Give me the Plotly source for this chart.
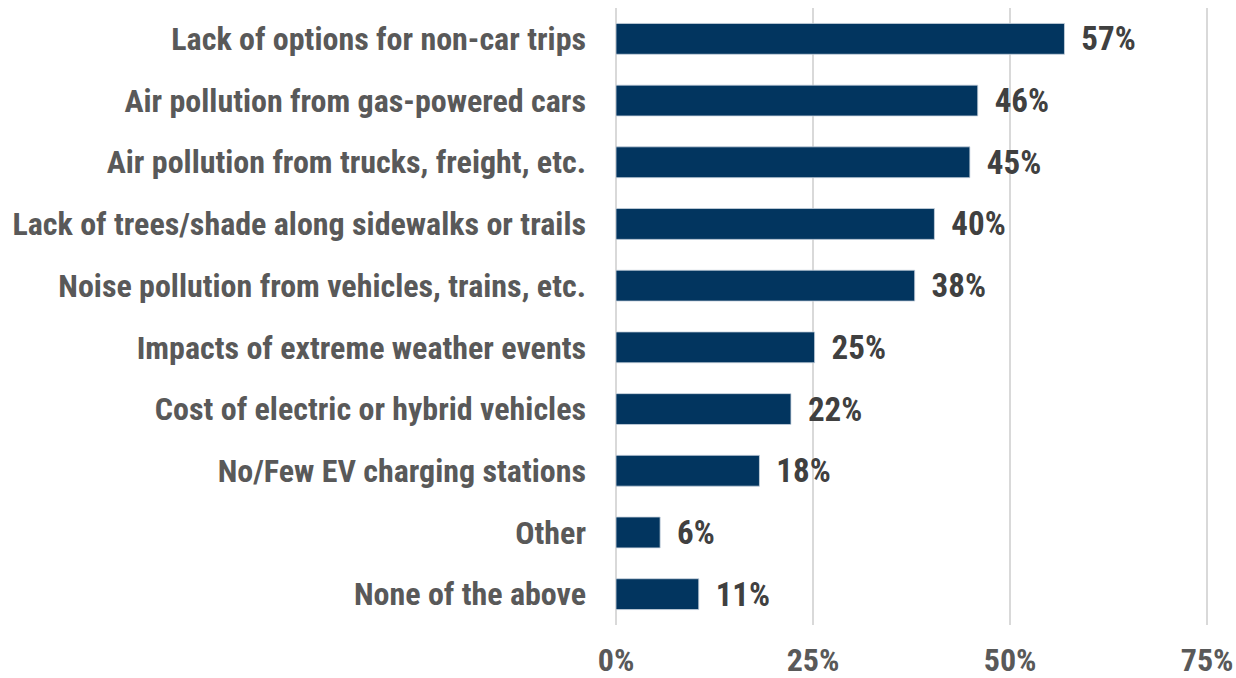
import plotly.graph_objects as go

categories = [
    "Lack of options for non-car trips",
    "Air pollution from gas-powered cars",
    "Air pollution from trucks, freight, etc.",
    "Lack of trees/shade along sidewalks or trails",
    "Noise pollution from vehicles, trains, etc.",
    "Impacts of extreme weather events",
    "Cost of electric or hybrid vehicles",
    "No/Few EV charging stations",
    "Other",
    "None of the above",
]
values = [0.569, 0.459, 0.449, 0.404, 0.379, 0.252, 0.222, 0.182, 0.056, 0.105]
value_labels = ["57%", "46%", "45%", "40%", "38%", "25%", "22%", "18%", "6%", "11%"]
x_ticks = [0, 0.25, 0.5, 0.75]
x_tick_labels = ["0%", "25%", "50%", "75%"]

FONT = "Roboto Condensed, Liberation Sans Narrow, DejaVu Sans Condensed, Roboto, sans-serif"

fig = go.Figure(
    go.Bar(
        y=categories,
        x=values,
        orientation="h",
        marker=dict(color="#02355f", line=dict(color="#c9d3de", width=0.8)),
        text=value_labels,
        texttemplate="\u00a0\u2009%{text}",
        textposition="outside",
        constraintext="none",
        textfont=dict(family=FONT, size=33, color="#404040", weight="bold"),
        cliponaxis=False,
    )
)

fig.update_layout(
    width=1236,
    height=678,
    margin=dict(l=616, r=21, t=8, b=53),
    paper_bgcolor="white",
    plot_bgcolor="white",
    bargap=0.5,
    showlegend=False,
    font=dict(family=FONT),
)
fig.update_yaxes(
    autorange="reversed",
    tickfont=dict(family=FONT, size=32, color="#595959", weight="bold"),
    ticklabelstandoff=29,
    showgrid=False,
    showline=False,
    automargin=False,
)
fig.update_xaxes(
    range=[0, 0.76],
    tickvals=x_ticks,
    ticktext=x_tick_labels,
    tickfont=dict(family=FONT, size=32, color="#595959", weight="bold"),
    showgrid=True,
    gridcolor="#d9d9d9",
    gridwidth=2,
    zeroline=True,
    zerolinecolor="#d9d9d9",
    zerolinewidth=2,
    ticklabelstandoff=13,
    ticklabeloverflow="allow",
    showline=False,
    automargin=False,
)

fig.write_html(
    "out.html",
    config={"displayModeBar": False},
    post_script="document.body.style.margin='0px';document.body.style.overflow='hidden';",
)
